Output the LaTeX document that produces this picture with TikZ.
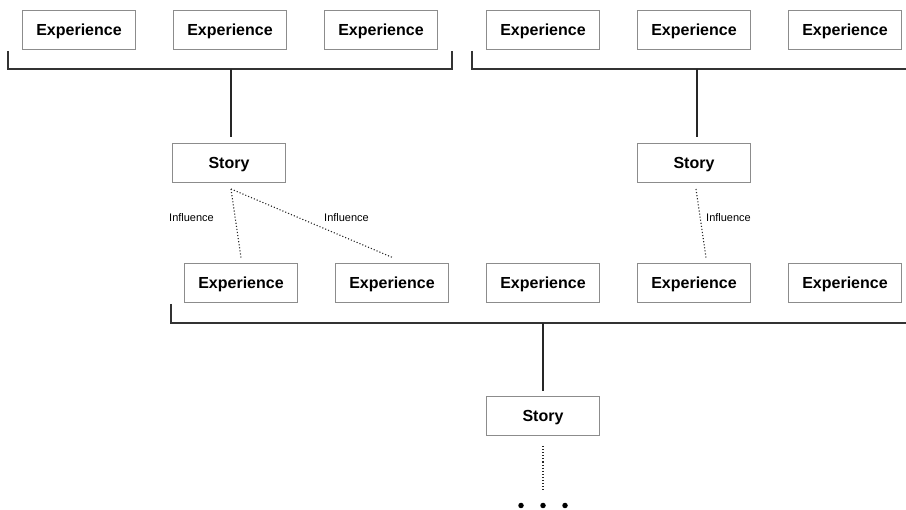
\documentclass[tikz,border=0pt]{standalone}
\usepackage{fontspec}
\setmainfont{Liberation Sans}
\begin{document}
\begin{tikzpicture}[x=1pt,y=-1pt,
  box/.style={draw=black!45,line width=0.9pt,minimum width=113pt,minimum height=39pt,
    inner sep=0pt,text height=11.5pt,text depth=0pt,
    font=\fontsize{16}{18}\selectfont\bfseries},
  bracket/.style={draw=black!80,line width=1.4pt},
  stem/.style={draw=black!85,line width=1.2pt},
  infl/.style={draw=black!85,line width=1.1pt,dotted},
  lbl/.style={font=\fontsize{11}{12}\selectfont,inner sep=0pt},
  dotnode/.style={circle,fill=black,minimum size=5.5pt,inner sep=0pt}]
\useasboundingbox (0,0) rectangle (906,510);

% top row of experiences
\node[box] (e1) at (79,30) {Experience};
\node[box] (e2) at (230,30) {Experience};
\node[box] (e3) at (381,30) {Experience};
\node[box] (e4) at (543,30) {Experience};
\node[box] (e5) at (694,30) {Experience};
\node[box] (e6) at (845,30) {Experience};

% stories
\node[box] (s1) at (229,163) {Story};
\node[box] (s2) at (694,163) {Story};
\node[box] (s3) at (543,416) {Story};

% middle row of experiences
\node[box] (m1) at (241,283) {Experience};
\node[box] (m2) at (392,283) {Experience};
\node[box] (m3) at (543,283) {Experience};
\node[box] (m4) at (694,283) {Experience};
\node[box] (m5) at (845,283) {Experience};

% brackets grouping experiences
\coordinate (b1) at (231,69);
\coordinate (b2) at (697,69);
\coordinate (b3) at (543,323);
\draw[bracket] (8,51) -- (8,69) -- (452,69) -- (452,51);
\draw[bracket] (472,51) -- (472,69) -- (906,69);
\draw[bracket] (171,304) -- (171,323) -- (906,323);

% stems from brackets down to stories
\coordinate (t1) at (231,137);
\coordinate (t2) at (697,137);
\coordinate (t3) at (543,391);
\draw[stem] (b1) -- (t1);
\draw[stem] (b2) -- (t2);
\draw[stem] (b3) -- (t3);

% influence links
\coordinate (i1) at (231,189);
\coordinate (i2) at (696,189);
\coordinate (j1) at (241,257.5);
\coordinate (j2) at (392.5,257.5);
\coordinate (j3) at (706,257.5);
\draw[infl] (i1) -- (j1);
\draw[infl] (i1) -- (j2);
\draw[infl] (i2) -- (j3);
\node[lbl,anchor=west] (l1) at (169,217.5) {Influence};
\node[lbl,anchor=west] (l2) at (324,217.5) {Influence};
\node[lbl,anchor=west] (l3) at (706,217.5) {Influence};

% continuation below the last story
\coordinate (c1) at (543,446);
\coordinate (c2) at (543,492);
\draw[infl] (c1) -- (c2);
\node[dotnode] (d1) at (521,505.5) {};
\node[dotnode] (d2) at (543,505.5) {};
\node[dotnode] (d3) at (565,505.5) {};
\end{tikzpicture}
\end{document}
